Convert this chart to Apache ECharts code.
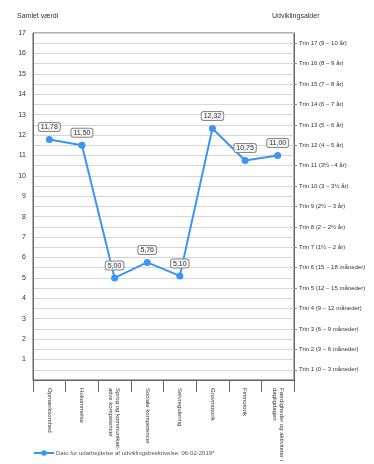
<!DOCTYPE html>
<html>
<head>
<meta charset="utf-8">
<script src="https://cdn.jsdelivr.net/npm/echarts@6/dist/echarts.min.js"></script>
<style>
  html, body { margin: 0; padding: 0; background: #ffffff; }
  #chart { width: 374px; height: 464px; }
</style>
</head>
<body>
<div id="chart"></div>
<script>
// Domains on the category axis
const categories = [
  'Opmærksomhed',
  'Hukommelse',
  'Sprog og kommunikati-\native kompetencer',
  'Sociale kompetencer',
  'Selvregulering',
  'Grovmotorik',
  'Finmotorik',
  'Færdigheder og aktiviteter i\ndagligdagen'
];

// Total score per domain
const scores = [11.78, 11.50, 5.00, 5.76, 5.10, 12.32, 10.75, 11.00];

// Developmental stages shown on the right axis (bottom to top)
const stages = [
  'Trin 1 (0 – 3 måneder)',
  'Trin 2 (3 – 6 måneder)',
  'Trin 3 (6 – 9 måneder)',
  'Trin 4 (9 – 12 måneder)',
  'Trin 5 (12 – 15 måneder)',
  'Trin 6 (15 – 18 måneder)',
  'Trin 7 (1½ – 2 år)',
  'Trin 8 (2 – 2½ år)',
  'Trin 9 (2½ – 3 år)',
  'Trin 10 (3 – 3½ år)',
  'Trin 11 (3½ - 4 år)',
  'Trin 12 (4 – 5 år)',
  'Trin 13 (5 – 6 år)',
  'Trin 14 (6 – 7 år)',
  'Trin 15 (7 – 8 år)',
  'Trin 16 (8 – 9 år)',
  'Trin 17 (9 – 10 år)'
];

const seriesName = 'Dato for udarbejdelse af udviklingsbeskrivelse: 06-02-2019*';

const fontFamily = 'Liberation Sans, Arial, sans-serif';
const chart = echarts.init(document.getElementById('chart'));

chart.setOption({
  animation: false,
  textStyle: { fontFamily: fontFamily },
  title: [
    { text: 'Samlet værdi', left: 12, top: 8,
      textStyle: { fontSize: 7, fontWeight: 'normal', color: '#333' } },
    { text: 'Udviklingsalder', left: 267, top: 8,
      textStyle: { fontSize: 7, fontWeight: 'normal', color: '#333' } }
  ],
  grid: {
    left: 33, right: 80, top: 33, bottom: 83,
    show: true, borderColor: '#666', borderWidth: 1
  },
  legend: {
    left: 28, bottom: 3, padding: [5, 5, 5, 5],
    itemWidth: 20, itemHeight: 7, itemGap: 2,
    textStyle: { fontSize: 6, color: '#555', padding: [0, 0, 0, -3] },
    data: [seriesName]
  },
  xAxis: {
    type: 'category',
    data: categories,
    boundaryGap: true,
    axisLine: { lineStyle: { color: '#666' } },
    axisTick: { show: true, length: 12, lineStyle: { color: '#666' } },
    axisLabel: {
      rotate: -90, fontSize: 6, color: '#333', margin: 8,
      lineHeight: 7, interval: 0
    }
  },
  yAxis: [
    {
      type: 'value',
      min: 0, max: 17, interval: 1,
      axisLine: { show: true, lineStyle: { color: '#666' } },
      axisTick: { show: false },
      axisLabel: {
        fontSize: 7, color: '#333', margin: 7,
        formatter: v => (v === 0 ? '' : String(v))
      },
      splitLine: { show: true, lineStyle: { color: '#d6d6d6', width: 1.2 } },
      minorTick: { show: false, splitNumber: 2 },
      minorSplitLine: { show: true, lineStyle: { color: '#d6d6d6', width: 1.2 } }
    },
    {
      type: 'category',
      position: 'right',
      data: stages,
      boundaryGap: true,
      axisLine: { show: true, lineStyle: { color: '#666' } },
      axisTick: { show: true, alignWithLabel: true, length: 3, lineStyle: { color: '#888' } },
      axisLabel: { fontSize: 6, color: '#333', margin: 5, interval: 0 },
      splitLine: { show: false }
    }
  ],
  series: [
    {
      name: seriesName,
      type: 'line',
      yAxisIndex: 0,
      data: scores,
      color: '#3a96f5',
      lineStyle: { width: 2, color: '#3a96f5' },
      symbol: 'circle',
      symbolSize: 7,
      itemStyle: { color: '#3a96f5' },
      label: {
        show: true,
        position: 'top',
        distance: 5,
        fontSize: 7,
        color: '#333',
        backgroundColor: '#f4f4f4',
        borderColor: '#888',
        borderWidth: 1,
        borderRadius: 2,
        padding: [1, 2, 0, 2],
        formatter: p => p.value.toFixed(2).replace('.', ',')
      }
    }
  ]
});
</script>
</body>
</html>
